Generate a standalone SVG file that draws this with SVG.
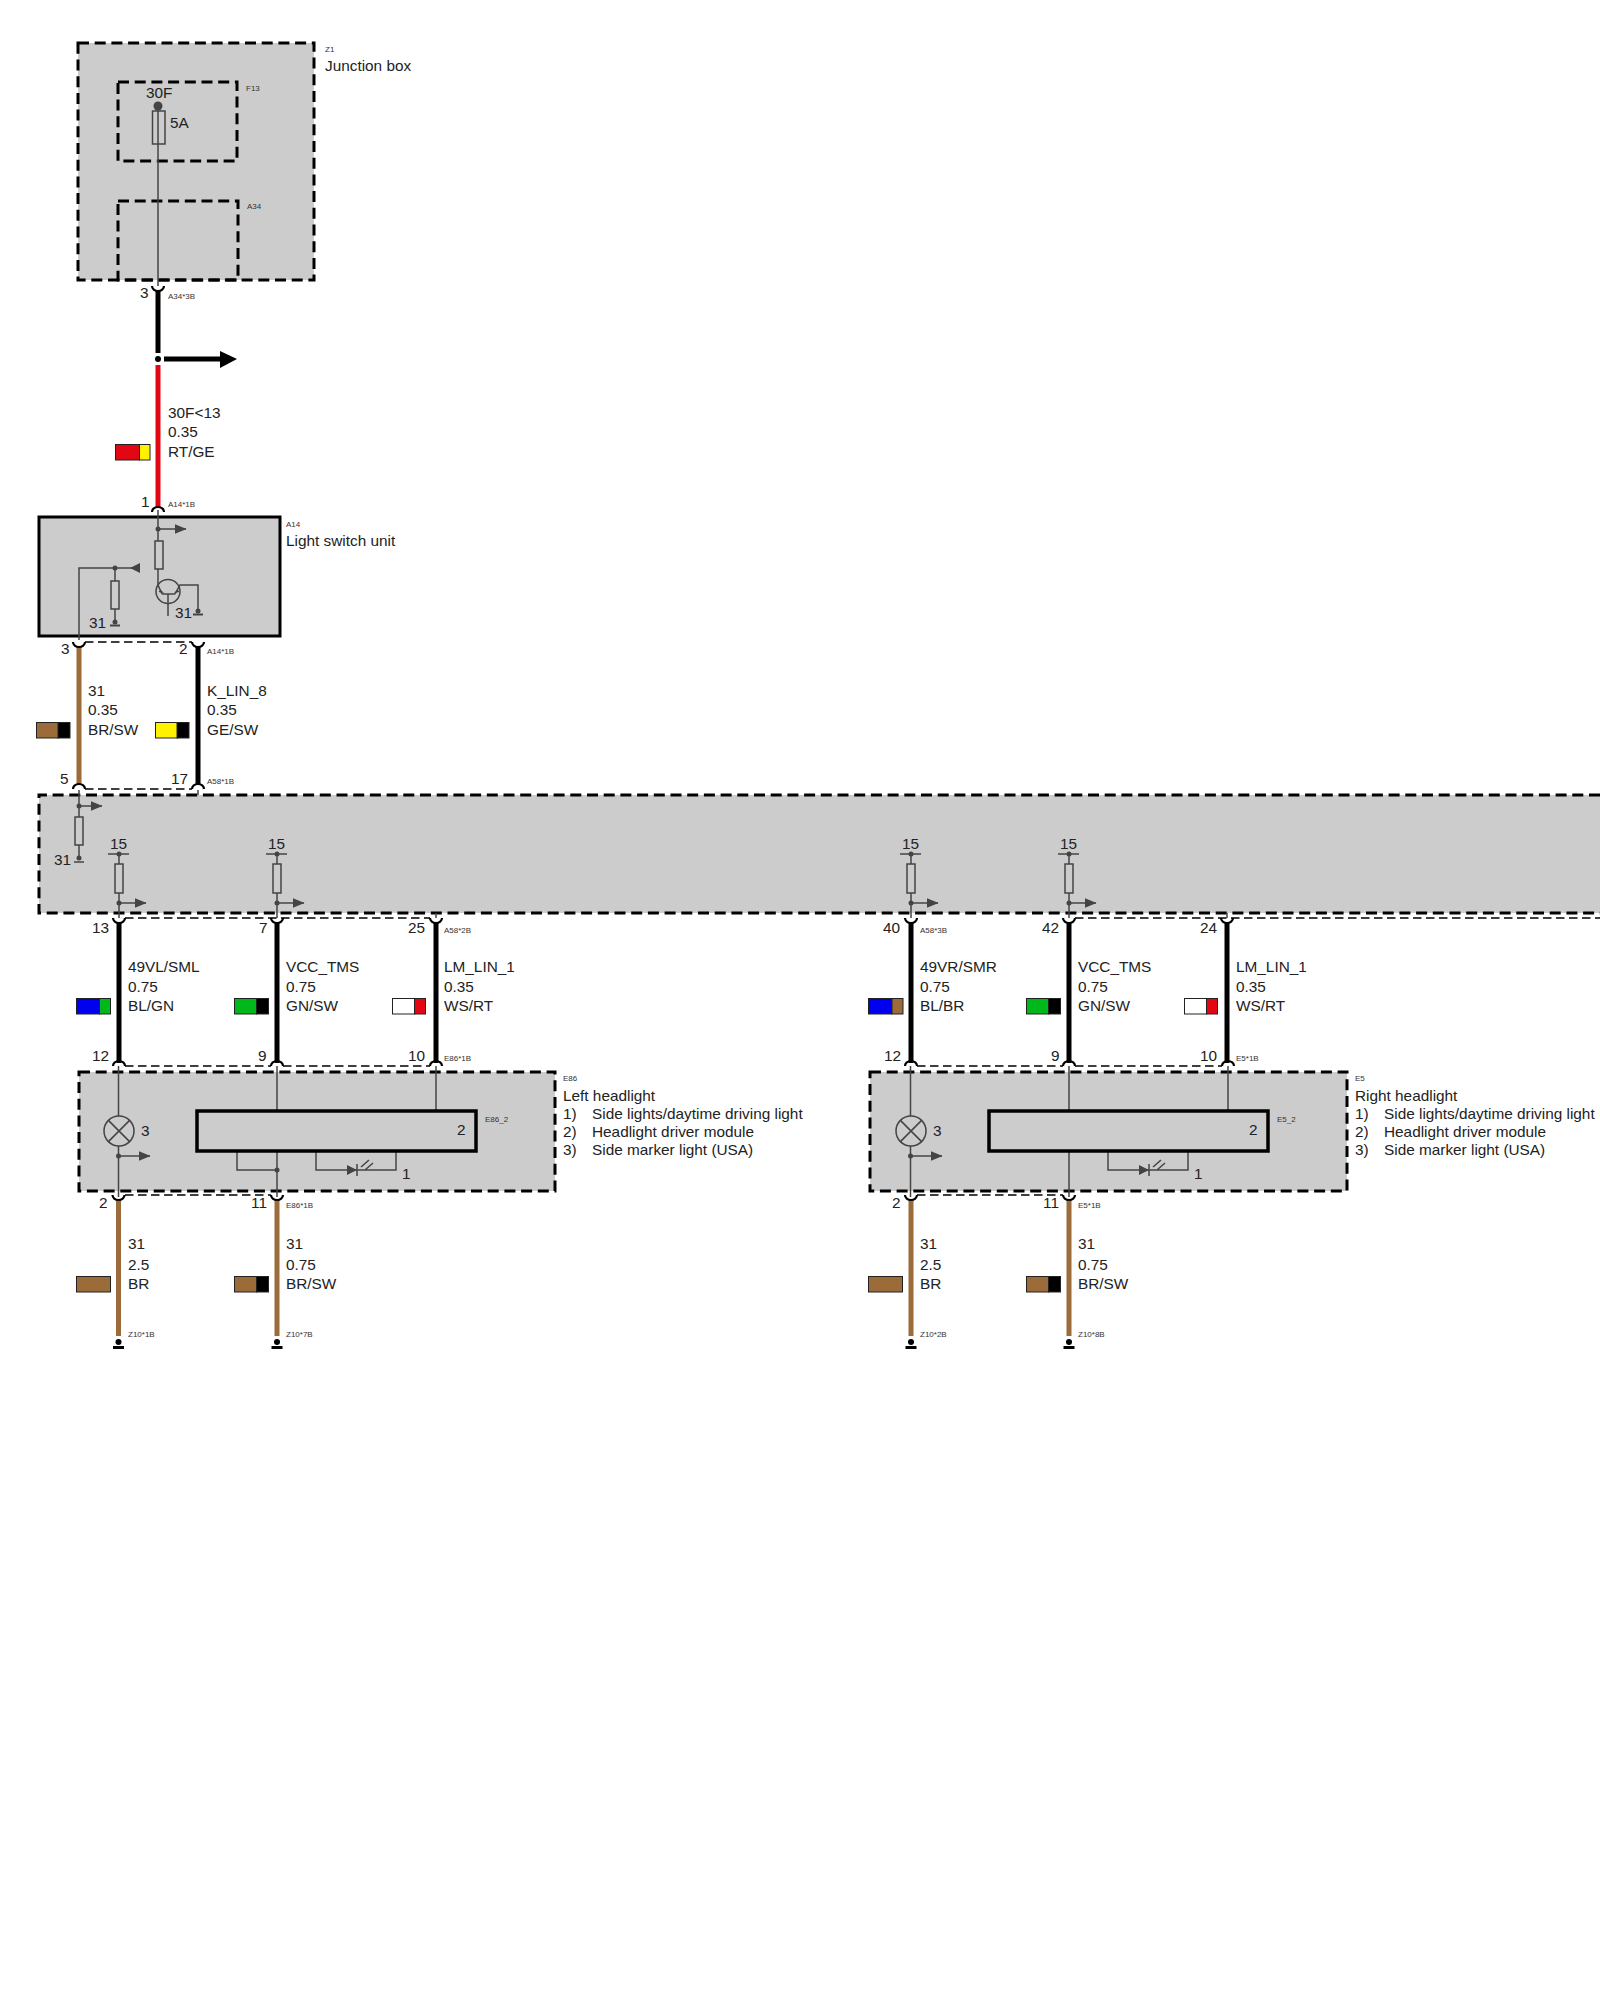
<svg xmlns="http://www.w3.org/2000/svg" width="1600" height="2000" viewBox="0 0 1600 2000">
<style>
text{font-family:"Liberation Sans",Arial,sans-serif;fill:#222}
.t{font-size:15.35px}
.s{font-size:8px;fill:#333}
.box{fill:#ccc;stroke:#000;stroke-width:3;stroke-dasharray:11 5.7}
.inner{fill:none;stroke:#000;stroke-width:3;stroke-dasharray:11 5.7}
.solid{fill:#ccc;stroke:#000;stroke-width:3.5}
.w{fill:none;stroke:#444;stroke-width:1.5}
.res{fill:#ccc;stroke:#444;stroke-width:1.5}
.d{fill:#444}
.bk{stroke:#000;stroke-width:5;fill:none}
.rd{stroke:#e30613;stroke-width:5;fill:none}
.br{stroke:#9c6b3a;stroke-width:5;fill:none}
.link{stroke:#000;stroke-width:1.5;stroke-dasharray:8.500 4.500;fill:none}
.cap{stroke:#000;stroke-width:2.200;fill:none}
.sw{stroke:#222;stroke-width:1}
.arw{stroke:#444;stroke-width:1.5;fill:none;marker-end:url(#ah)}
</style>
<defs>
<marker id="ah" markerUnits="userSpaceOnUse" markerWidth="12" markerHeight="10" refX="11.500" refY="5" orient="auto"><path d="M0,0L12,5L0,10z" fill="#444"/></marker>
<path id="capTop" class="cap" d="M-6,4A6 5 0 0 1 6,4"/>
<path id="capBot" class="cap" d="M-6,-4A6 5 0 0 0 6,-4"/>
</defs>

<g id="node-z1">
<rect class="box" x="78" y="43" width="236" height="237"/>
<rect class="inner" x="118" y="82" width="119" height="79"/>
<rect class="inner" x="118" y="201" width="120" height="79"/>
<path class="w" d="M158,106V286"/>
<circle class="d" cx="158" cy="106" r="4.500"/>
<rect class="w" x="152.500" y="111" width="12.500" height="33"/>
<text class="t" x="146" y="98">30F</text>
<text class="t" x="170" y="128">5A</text>
<text class="s" x="325" y="52">Z1</text>
<text class="t" x="325" y="71">Junction box</text>
<text class="s" x="246" y="91">F13</text>
<text class="s" x="247" y="209">A34</text>
</g>

<g id="node-a14">
<rect class="solid" style="stroke-width:3" x="39" y="517" width="241" height="119"/>
<path class="w" d="M158,510V541M158,569V585L162,594M162,594H175M175,594L180,585H198V611M168,594V616M79,640V568H132M115,568V581M115,609V622"/>
<path class="arw" d="M158,529H186"/>
<path class="d" d="M140,563L130,568L140,573z"/>
<path class="d" d="M160.500,589.500L164,593L158.500,592zM177.500,589.500L174,593L179.500,592z"/>
<circle class="w" cx="168" cy="591.500" r="12"/>
<rect class="res" x="155" y="541" width="8" height="28"/>
<rect class="res" x="111" y="581" width="8" height="28"/>
<circle class="d" cx="158" cy="529" r="2.500"/>
<circle class="d" cx="115" cy="568" r="2.500"/>
<circle class="d" cx="115" cy="622" r="2.500"/>
<circle class="d" cx="198" cy="611" r="2.500"/>
<path class="w" style="stroke-width:2" d="M110,625.500H120M193,614.500H203"/>
<text class="t" x="89" y="628">31</text>
<text class="t" x="175" y="618">31</text>
<text class="s" x="286" y="527">A14</text>
<text class="t" x="286" y="546">Light switch unit</text>
</g>

<g id="node-a58">
<path style="fill:#ccc;stroke:none" d="M1600,795H39V913H1600z"/>
<path class="inner" d="M1600,795H39V913H1600"/>
<path class="w" d="M79,790V858M198,790V795"/>
<path class="arw" d="M79,806H102"/>
<rect class="res" x="75" y="817" width="8" height="28"/>
<circle class="d" cx="79" cy="806" r="2.500"/>
<circle class="d" cx="79" cy="858" r="2.500"/>
<path class="w" d="M74,862H84"/>
<text class="t" x="54" y="865">31</text>
<g id="pull-13"><path class="w" d="M119,854V918M108,854H129"/><path class="arw" d="M119,903H146"/><rect class="res" x="115" y="864" width="8" height="29"/><circle class="d" cx="119" cy="854" r="2.500"/><circle class="d" cx="119" cy="903" r="2.500"/><text class="t" x="110" y="849">15</text></g>
<g id="pull-7"><path class="w" d="M277,854V918M266,854H287"/><path class="arw" d="M277,903H304"/><rect class="res" x="273" y="864" width="8" height="29"/><circle class="d" cx="277" cy="854" r="2.500"/><circle class="d" cx="277" cy="903" r="2.500"/><text class="t" x="268" y="849">15</text></g>
<g id="pull-40"><path class="w" d="M911,854V918M900,854H921"/><path class="arw" d="M911,903H938"/><rect class="res" x="907" y="864" width="8" height="29"/><circle class="d" cx="911" cy="854" r="2.500"/><circle class="d" cx="911" cy="903" r="2.500"/><text class="t" x="902" y="849">15</text></g>
<g id="pull-42"><path class="w" d="M1069,854V918M1058,854H1079"/><path class="arw" d="M1069,903H1096"/><rect class="res" x="1065" y="864" width="8" height="29"/><circle class="d" cx="1069" cy="854" r="2.500"/><circle class="d" cx="1069" cy="903" r="2.500"/><text class="t" x="1060" y="849">15</text></g>
<path class="w" d="M436,913V918M1227,913V918"/>
</g>

<g id="node-e86">
<rect class="box" x="79" y="1072" width="476" height="119"/>
<path class="w" d="M118.500,1066V1116M118.500,1146V1197M277,1066V1111M436,1066V1111M277,1151V1197M237,1151V1170H277M316,1151V1170H396V1151"/>
<circle class="w" cx="119" cy="1131" r="15"/>
<path class="w" d="M108.400,1120.400L129.600,1141.600M129.600,1120.400L108.400,1141.600"/>
<path class="arw" d="M118.500,1156H150"/>
<circle class="d" cx="118.500" cy="1156" r="2.500"/>
<circle class="d" cx="277" cy="1170" r="2.500"/>
<rect class="solid" x="197" y="1111" width="279" height="40"/>
<path class="d" d="M347,1165L357,1170L347,1175z"/>
<path class="w" d="M357,1164V1176M361,1167L369,1160M365,1170L373,1163"/>
<text class="t" x="141" y="1136">3</text>
<text class="t" x="457" y="1135">2</text>
<text class="t" x="402" y="1179">1</text>
<text class="s" x="485" y="1122">E86_2</text>
<text class="s" x="563" y="1081">E86</text>
<text class="t" x="563" y="1101">Left headlight</text>
<text class="t" x="563" y="1119">1)</text><text class="t" x="592" y="1119">Side lights/daytime driving light</text>
<text class="t" x="563" y="1137">2)</text><text class="t" x="592" y="1137">Headlight driver module</text>
<text class="t" x="563" y="1155">3)</text><text class="t" x="592" y="1155">Side marker light (USA)</text>
</g>

<g id="node-e5">
<rect class="box" x="870" y="1072" width="477" height="119"/>
<path class="w" d="M910.500,1066V1116M910.500,1146V1197M1069,1066V1111M1228,1066V1111M1069,1151V1197M1108,1151V1170H1188V1151"/>
<circle class="w" cx="911" cy="1131" r="15"/>
<path class="w" d="M900.400,1120.400L921.600,1141.600M921.600,1120.400L900.400,1141.600"/>
<path class="arw" d="M910.500,1156H942"/>
<circle class="d" cx="910.500" cy="1156" r="2.500"/>
<rect class="solid" x="989" y="1111" width="279" height="40"/>
<path class="d" d="M1139,1165L1149,1170L1139,1175z"/>
<path class="w" d="M1149,1164V1176M1153,1167L1161,1160M1157,1170L1165,1163"/>
<text class="t" x="933" y="1136">3</text>
<text class="t" x="1249" y="1135">2</text>
<text class="t" x="1194" y="1179">1</text>
<text class="s" x="1277" y="1122">E5_2</text>
<text class="s" x="1355" y="1081">E5</text>
<text class="t" x="1355" y="1101">Right headlight</text>
<text class="t" x="1355" y="1119">1)</text><text class="t" x="1384" y="1119">Side lights/daytime driving light</text>
<text class="t" x="1355" y="1137">2)</text><text class="t" x="1384" y="1137">Headlight driver module</text>
<text class="t" x="1355" y="1155">3)</text><text class="t" x="1384" y="1155">Side marker light (USA)</text>
</g>

<g id="connectors">
<path class="link" d="M85,642H192M85,789H192M125,918H430M1075,918H1600M125,1066H271M283,1066H430M917,1066H1063M1075,1066H1222M125,1195H271M917,1195H1063"/>
<path class="bk" d="M158,290V353"/>
<use href="#capBot" x="158" y="290"/>
<circle cx="158" cy="359" r="3" fill="#000"/>
<path class="bk" d="M164,359H222"/><path d="M220,351L237,359L220,368z" fill="#000"/>
<path class="rd" d="M158,365V508"/>
<use href="#capTop" x="158" y="508"/>
<text class="t" x="140" y="298">3</text><text class="s" x="168" y="299">A34*3B</text>
<text class="t" x="168" y="418">30F&lt;13</text><text class="t" x="168" y="437">0.35</text><text class="t" x="168" y="457">RT/GE</text>
<rect class="sw" x="115.500" y="444.500" width="24" height="15.500" fill="#e30613"/><rect class="sw" x="139.500" y="444.500" width="10.500" height="15.500" fill="#fff200"/>
<text class="t" x="141" y="507">1</text><text class="s" x="168" y="507">A14*1B</text>

<path class="br" d="M79,646V785"/><path class="bk" d="M198,646V785"/>
<use href="#capBot" x="79" y="646"/><use href="#capBot" x="198" y="646"/>
<use href="#capTop" x="79" y="785"/><use href="#capTop" x="198" y="785"/>
<text class="t" x="61" y="654">3</text><text class="t" x="179" y="654">2</text><text class="s" x="207" y="654">A14*1B</text>
<text class="t" x="88" y="696">31</text><text class="t" x="88" y="715">0.35</text><text class="t" x="88" y="735">BR/SW</text>
<rect class="sw" x="36.500" y="722.500" width="22" height="15.500" fill="#9c6b3a"/><rect class="sw" x="58" y="722.500" width="12" height="15.500" fill="#000"/>
<text class="t" x="207" y="696">K_LIN_8</text><text class="t" x="207" y="715">0.35</text><text class="t" x="207" y="735">GE/SW</text>
<rect class="sw" x="155.500" y="722.500" width="22" height="15.500" fill="#fff200"/><rect class="sw" x="177" y="722.500" width="12" height="15.500" fill="#000"/>
<text class="t" x="60" y="784">5</text><text class="t" x="171" y="784">17</text><text class="s" x="207" y="784">A58*1B</text>

<path class="bk" d="M119,922V1063M277,922V1063M436,922V1063M911,922V1063M1069,922V1063M1227,922V1063"/>
<use href="#capBot" x="119" y="922"/><use href="#capBot" x="277" y="922"/><use href="#capBot" x="436" y="922"/><use href="#capBot" x="911" y="922"/><use href="#capBot" x="1069" y="922"/><use href="#capBot" x="1227" y="922"/>
<use href="#capTop" x="119" y="1062"/><use href="#capTop" x="277" y="1062"/><use href="#capTop" x="436" y="1062"/><use href="#capTop" x="911" y="1062"/><use href="#capTop" x="1069" y="1062"/><use href="#capTop" x="1228" y="1062"/>

<text class="t" x="92" y="933">13</text><text class="t" x="259" y="933">7</text><text class="t" x="408" y="933">25</text><text class="s" x="444" y="933">A58*2B</text>
<text class="t" x="883" y="933">40</text><text class="s" x="920" y="933">A58*3B</text><text class="t" x="1042" y="933">42</text><text class="t" x="1200" y="933">24</text>

<text class="t" x="128" y="972">49VL/SML</text><text class="t" x="128" y="992">0.75</text><text class="t" x="128" y="1011">BL/GN</text>
<rect class="sw" x="76.500" y="998.500" width="23" height="15.500" fill="#0000f0"/><rect class="sw" x="99.500" y="998.500" width="11" height="15.500" fill="#00b81c"/>
<text class="t" x="286" y="972">VCC_TMS</text><text class="t" x="286" y="992">0.75</text><text class="t" x="286" y="1011">GN/SW</text>
<rect class="sw" x="234.500" y="998.500" width="22" height="15.500" fill="#00b81c"/><rect class="sw" x="256.500" y="998.500" width="12" height="15.500" fill="#000"/>
<text class="t" x="444" y="972">LM_LIN_1</text><text class="t" x="444" y="992">0.35</text><text class="t" x="444" y="1011">WS/RT</text>
<rect class="sw" x="392.500" y="998.500" width="22" height="15.500" fill="#fff"/><rect class="sw" x="414.500" y="998.500" width="11" height="15.500" fill="#e30613"/>

<text class="t" x="920" y="972">49VR/SMR</text><text class="t" x="920" y="992">0.75</text><text class="t" x="920" y="1011">BL/BR</text>
<rect class="sw" x="868.500" y="998.500" width="23.500" height="15.500" fill="#0000f0"/><rect class="sw" x="892" y="998.500" width="11" height="15.500" fill="#9c6b3a"/>
<text class="t" x="1078" y="972">VCC_TMS</text><text class="t" x="1078" y="992">0.75</text><text class="t" x="1078" y="1011">GN/SW</text>
<rect class="sw" x="1026.500" y="998.500" width="22" height="15.500" fill="#00b81c"/><rect class="sw" x="1048.500" y="998.500" width="12" height="15.500" fill="#000"/>
<text class="t" x="1236" y="972">LM_LIN_1</text><text class="t" x="1236" y="992">0.35</text><text class="t" x="1236" y="1011">WS/RT</text>
<rect class="sw" x="1184.500" y="998.500" width="22" height="15.500" fill="#fff"/><rect class="sw" x="1206.500" y="998.500" width="11" height="15.500" fill="#e30613"/>

<text class="t" x="92" y="1061">12</text><text class="t" x="258" y="1061">9</text><text class="t" x="408" y="1061">10</text><text class="s" x="444" y="1061">E86*1B</text>
<text class="t" x="884" y="1061">12</text><text class="t" x="1051" y="1061">9</text><text class="t" x="1200" y="1061">10</text><text class="s" x="1236" y="1061">E5*1B</text>

<path class="br" d="M118.500,1199V1336M277,1199V1336M911,1199V1336M1069,1199V1336"/>
<use href="#capBot" x="118.500" y="1199"/><use href="#capBot" x="277" y="1199"/><use href="#capBot" x="911" y="1199"/><use href="#capBot" x="1069" y="1199"/>
<text class="t" x="99" y="1208">2</text><text class="t" x="251" y="1208">11</text><text class="s" x="286" y="1208">E86*1B</text>
<text class="t" x="892" y="1208">2</text><text class="t" x="1043" y="1208">11</text><text class="s" x="1078" y="1208">E5*1B</text>

<text class="t" x="128" y="1249">31</text><text class="t" x="128" y="1270">2.5</text><text class="t" x="128" y="1289">BR</text>
<rect class="sw" x="76.500" y="1276.500" width="34" height="15.500" fill="#9c6b3a"/>
<text class="t" x="286" y="1249">31</text><text class="t" x="286" y="1270">0.75</text><text class="t" x="286" y="1289">BR/SW</text>
<rect class="sw" x="234.500" y="1276.500" width="22" height="15.500" fill="#9c6b3a"/><rect class="sw" x="256.500" y="1276.500" width="12" height="15.500" fill="#000"/>
<text class="t" x="920" y="1249">31</text><text class="t" x="920" y="1270">2.5</text><text class="t" x="920" y="1289">BR</text>
<rect class="sw" x="868.500" y="1276.500" width="34" height="15.500" fill="#9c6b3a"/>
<text class="t" x="1078" y="1249">31</text><text class="t" x="1078" y="1270">0.75</text><text class="t" x="1078" y="1289">BR/SW</text>
<rect class="sw" x="1026.500" y="1276.500" width="22" height="15.500" fill="#9c6b3a"/><rect class="sw" x="1048.500" y="1276.500" width="12" height="15.500" fill="#000"/>

<text class="s" x="128" y="1337">Z10*1B</text><text class="s" x="286" y="1337">Z10*7B</text><text class="s" x="920" y="1337">Z10*2B</text><text class="s" x="1078" y="1337">Z10*8B</text>
<g fill="#000">
<circle cx="118.500" cy="1342" r="3"/><rect x="113" y="1346" width="11" height="3"/>
<circle cx="277" cy="1342" r="3"/><rect x="271.500" y="1346" width="11" height="3"/>
<circle cx="911" cy="1342" r="3"/><rect x="905.500" y="1346" width="11" height="3"/>
<circle cx="1069" cy="1342" r="3"/><rect x="1063.500" y="1346" width="11" height="3"/>
</g>
</g>
</svg>
